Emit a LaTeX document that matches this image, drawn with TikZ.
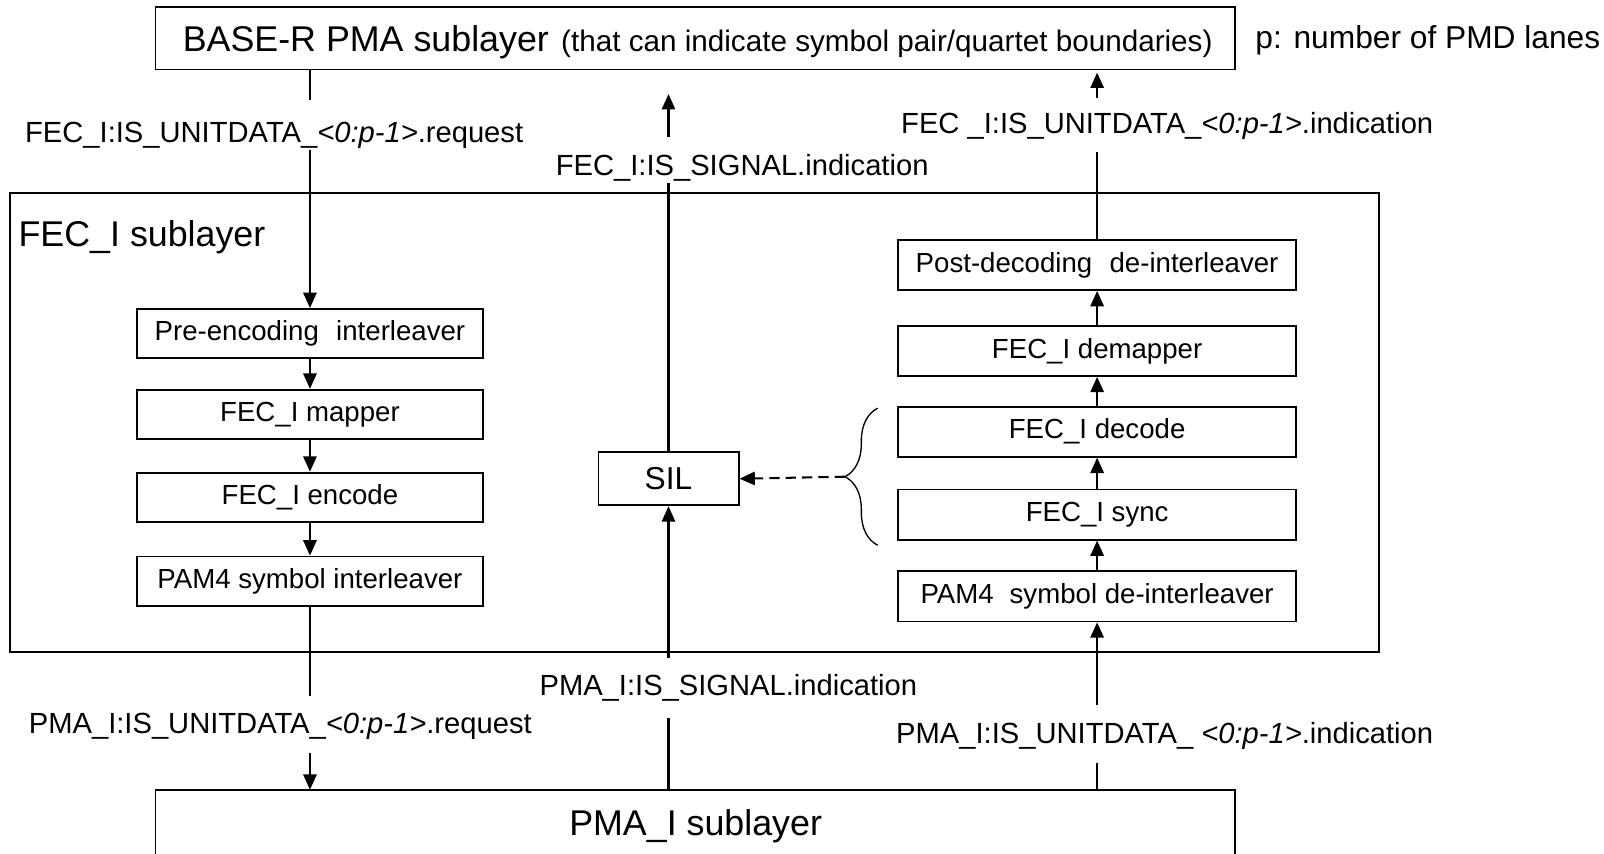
\documentclass[tikz,border=0pt]{standalone}
\usepackage{fontspec}
\setmainfont{Liberation Sans}
\usetikzlibrary{arrows.meta,decorations.pathreplacing}

\tikzset{
  conn/.style={line width=2pt},
  tip/.style={-{Triangle[length=15pt,width=13pt]}},
  arr/.style={conn, tip},
  frame/.style={draw, line width=1.8pt, inner sep=0pt},
  blk/.style={frame, minimum width=338pt, minimum height=48pt,
              font=\fontsize{27}{32}\selectfont},
  rblk/.style={blk, minimum width=389pt, minimum height=49pt},
  lbl/.style={inner sep=0pt, font=\fontsize{28.5}{34}\selectfont},
  big/.style={inner sep=0pt, font=\fontsize{35}{42}\selectfont},
}

\begin{document}
\begin{tikzpicture}[x=1pt,y=-1pt]
\useasboundingbox (0,0) rectangle (1568,834);
\fill[white] (0,0) rectangle (1568,834);

% upper sublayer
\node[frame, minimum width=1055pt, minimum height=61pt] (base) at (679.5,37.5) {};
\node[inner sep=0pt] (basetxt) at (682,41)
  {\fontsize{35}{42}\selectfont BASE-R PMA sublayer\hspace{12pt}\fontsize{29}{35}\selectfont(that can indicate symbol pair/quartet boundaries)};
\node[anchor=west, inner sep=0pt, font=\fontsize{31}{37}\selectfont] (lanes) at (1227,39) {p: number of PMD lanes};

% FEC_I sublayer frame
\node[frame, minimum width=1338pt, minimum height=448pt] (fec) at (679,413) {};
\node[big, anchor=west] (fectitle) at (18,232) {FEC\_I sublayer};

% transmit column
\node[blk] (pre) at (303,326) {Pre-encoding\hspace{0.35em} interleaver};
\node[blk] (map) at (303,405) {FEC\_I mapper};
\node[blk] (enc) at (303,486) {FEC\_I encode};
\node[blk] (pil) at (303,568) {PAM4 symbol interleaver};

% receive column
\node[rblk] (post) at (1072.5,259) {Post-decoding\hspace{0.35em} de-interleaver};
\node[rblk] (dmap) at (1072.5,343) {FEC\_I demapper};
\node[rblk] (dec)  at (1072.5,422) {FEC\_I decode};
\node[rblk] (sync) at (1072.5,503) {FEC\_I sync};
\node[rblk] (pdil) at (1072.5,583) {PAM4\hspace{0.3em} symbol de-interleaver};

% signal indication logic
\node[frame, minimum width=137pt, minimum height=52pt,
      font=\fontsize{31}{37}\selectfont] (sil) at (653.5,468) {SIL};

% lower sublayer (runs past the bottom edge)
\begin{scope}
  \clip (0,0) rectangle (1568,834);
  \draw[line width=1.8pt] (152,900) -- (152,772) coordinate (pmaNW) -- (1207,772) coordinate (pmaNE) -- (1207,900);
\end{scope}
\node[big] (pma) at (680,808) {PMA\_I sublayer};

% service interface labels
\node[lbl] (lab1) at (268,132) {FEC\_I:IS\_UNITDATA\_\textit{<0:p-1>}.request};
\node[lbl] (lab2) at (725.5,164) {FEC\_I:IS\_SIGNAL.indication};
\node[lbl] (lab3) at (1141,123) {FEC \_I:IS\_UNITDATA\_\textit{<0:p-1>}.indication};
\node[lbl] (lab4) at (274,710) {PMA\_I:IS\_UNITDATA\_\textit{<0:p-1>}.request};
\node[lbl] (lab5) at (712,672) {PMA\_I:IS\_SIGNAL.indication};
\node[lbl] (lab6) at (1138.5,719) {PMA\_I:IS\_UNITDATA\_ \textit{<0:p-1>}.indication};

% free ends of the interrupted connectors
\coordinate (tl1) at (303,98);
\coordinate (tl2) at (303,147);
\coordinate (tm1) at (653.5,92);
\coordinate (tm2) at (653.5,134);
\coordinate (tm3) at (653.5,179);
\coordinate (tr1) at (1072.5,71);
\coordinate (tr2) at (1072.5,96);
\coordinate (tr3) at (1072.5,149);
\coordinate (bl1) at (303,680);
\coordinate (bl2) at (303,736);
\coordinate (bm1) at (653.5,643);
\coordinate (bm2) at (653.5,702);
\coordinate (br1) at (1072.5,689);
\coordinate (br2) at (1072.5,746);

% transmit path
\draw[conn] (base.south -| tl1) -- (tl1);
\draw[arr] (tl2) -- (pre.north);
\draw[arr] (pre) -- (map);
\draw[arr] (map) -- (enc);
\draw[arr] (enc) -- (pil);
\draw[conn] (pil.south) -- (bl1);
\draw[arr] (bl2) -- (bl2 |- pmaNW);

% signal path
\draw[conn] (sil.north) -- (tm3);
\draw[arr] (tm2) -- (tm1);
\draw[conn] (bm2 |- pmaNW) -- (bm2);
\draw[arr] (bm1) -- (sil.south);

% receive path
\draw[conn] (br2 |- pmaNW) -- (br2);
\draw[arr] (br1) -- (pdil.south);
\draw[arr] (pdil) -- (sync);
\draw[arr] (sync) -- (dec);
\draw[arr] (dec) -- (dmap);
\draw[arr] (dmap) -- (post);
\draw[conn] (post.north) -- (tr3);
\draw[arr] (tr2) -- (tr1);

% brace over sync/decode and dashed link to SIL
\draw[line width=1.3pt, decorate, decoration={brace, amplitude=32pt}] (858,533) -- (858,399);
\coordinate (btip) at (826,466);
\draw[conn, dash pattern=on 10pt off 6pt, tip] (btip) -- (sil.east);
\end{tikzpicture}
\end{document}
